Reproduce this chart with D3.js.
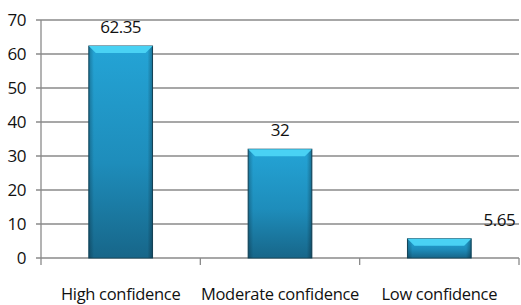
<!DOCTYPE html>
<html>
<head>
<meta charset="utf-8">
<script src="https://cdn.jsdelivr.net/npm/d3@7"></script>
<style>
  body { margin: 0; background: #fff; }
  #chart { width: 521px; height: 305px; }
  text { font-family: "Open Sans", "Noto Sans", sans-serif; fill: #111; }
</style>
</head>
<body>
<div id="chart"></div>
<script>
const categories = ["High confidence", "Moderate confidence", "Low confidence"];
const values = [62.35, 32, 5.65];
const valueLabels = ["62.35", "32", "5.65"];
const yTicks = [0, 10, 20, 30, 40, 50, 60, 70];

function drawChart() {
  const width = 521, height = 305;
  const margin = { top: 20, right: 2, bottom: 47, left: 41 };
  const chartWidth = width - margin.left - margin.right;
  const chartHeight = height - margin.top - margin.bottom;

  const svg = d3.select("#chart").append("svg")
    .attr("width", width)
    .attr("height", height);

  const defs = svg.append("defs");
  const grad = defs.append("linearGradient")
    .attr("id", "bar-gradient")
    .attr("x1", 0).attr("y1", 0).attr("x2", 0).attr("y2", 1);
  grad.selectAll("stop")
    .data([
      { offset: "0%", color: "#24a4d6" },
      { offset: "55%", color: "#1e8dbb" },
      { offset: "100%", color: "#176689" }
    ])
    .enter().append("stop")
    .attr("offset", d => d.offset)
    .attr("stop-color", d => d.color);

  const sideGrad = defs.append("linearGradient")
    .attr("id", "side-gradient")
    .attr("x1", 0).attr("y1", 0).attr("x2", 1).attr("y2", 0);
  sideGrad.selectAll("stop")
    .data([
      { offset: "0%", color: "#000", op: 0.25 },
      { offset: "8%", color: "#000", op: 0 },
      { offset: "92%", color: "#000", op: 0 },
      { offset: "100%", color: "#000", op: 0.3 }
    ])
    .enter().append("stop")
    .attr("offset", d => d.offset)
    .attr("stop-color", d => d.color)
    .attr("stop-opacity", d => d.op);

  const g = svg.append("g")
    .attr("transform", `translate(${margin.left},${margin.top})`);

  const x = d3.scaleBand()
    .domain(categories)
    .range([0, chartWidth]);

  const y = d3.scaleLinear()
    .domain([0, 70])
    .range([chartHeight, 0]);

  // gridlines
  g.append("g")
    .selectAll("line")
    .data(yTicks)
    .enter().append("line")
    .attr("x1", -5)
    .attr("x2", chartWidth)
    .attr("y1", d => y(d))
    .attr("y2", d => y(d))
    .attr("stroke", "#8a8a8a")
    .attr("stroke-width", 1.3);

  // y axis line
  g.append("line")
    .attr("x1", 0).attr("x2", 0)
    .attr("y1", 0).attr("y2", chartHeight + 7)
    .attr("stroke", "#8a8a8a")
    .attr("stroke-width", 1.3);

  // x tick marks at band boundaries
  g.append("g")
    .selectAll("line")
    .data(categories)
    .enter().append("line")
    .attr("x1", d => x(d) + x.bandwidth())
    .attr("x2", d => x(d) + x.bandwidth())
    .attr("y1", chartHeight)
    .attr("y2", chartHeight + 7)
    .attr("stroke", "#8a8a8a")
    .attr("stroke-width", 1.3);

  // y tick labels
  g.append("g")
    .selectAll("text")
    .data(yTicks)
    .enter().append("text")
    .attr("x", -15)
    .attr("y", d => y(d))
    .attr("dy", "0.36em")
    .attr("text-anchor", "end")
    .attr("font-size", 17)
    .attr("letter-spacing", -0.5)
    .text(d => d);

  // x labels
  g.append("g")
    .selectAll("text")
    .data(categories)
    .enter().append("text")
    .attr("x", d => x(d) + x.bandwidth() / 2)
    .attr("y", chartHeight + 42)
    .attr("text-anchor", "middle")
    .attr("font-size", 16.5)
    .attr("letter-spacing", -0.3)
    .text(d => d);

  const barW = x.bandwidth() * 0.4;
  const bevel = 7;
  const data = categories.map((c, i) => ({ cat: c, value: values[i], label: valueLabels[i] }));

  const bars = g.append("g").selectAll("g")
    .data(data)
    .enter().append("g");

  bars.append("rect")
    .attr("x", d => x(d.cat) + (x.bandwidth() - barW) / 2)
    .attr("y", d => y(d.value))
    .attr("width", barW)
    .attr("height", d => chartHeight - y(d.value))
    .attr("fill", "url(#bar-gradient)")
    .attr("stroke", "#164c63")
    .attr("stroke-width", 1);

  bars.append("rect")
    .attr("x", d => x(d.cat) + (x.bandwidth() - barW) / 2)
    .attr("y", d => y(d.value))
    .attr("width", barW)
    .attr("height", d => chartHeight - y(d.value))
    .attr("fill", "url(#side-gradient)");

  // top bevel
  bars.append("path")
    .attr("d", d => {
      const x0 = x(d.cat) + (x.bandwidth() - barW) / 2;
      const x1 = x0 + barW;
      const y0 = y(d.value);
      return `M${x0},${y0}L${x1},${y0}L${x1 - bevel},${y0 + bevel}L${x0 + bevel},${y0 + bevel}Z`;
    })
    .attr("fill", "#49d2f4");

  // value labels (the last one sits off to the right, as in the original)
  bars.append("text")
    .attr("x", (d, i) => x(d.cat) + x.bandwidth() / 2 + (i === 2 ? 60 : 0))
    .attr("y", d => y(d.value) - 13)
    .attr("text-anchor", "middle")
    .attr("font-size", 17)
    .attr("letter-spacing", -0.5)
    .text(d => d.label);
}

drawChart();
</script>
</body>
</html>
